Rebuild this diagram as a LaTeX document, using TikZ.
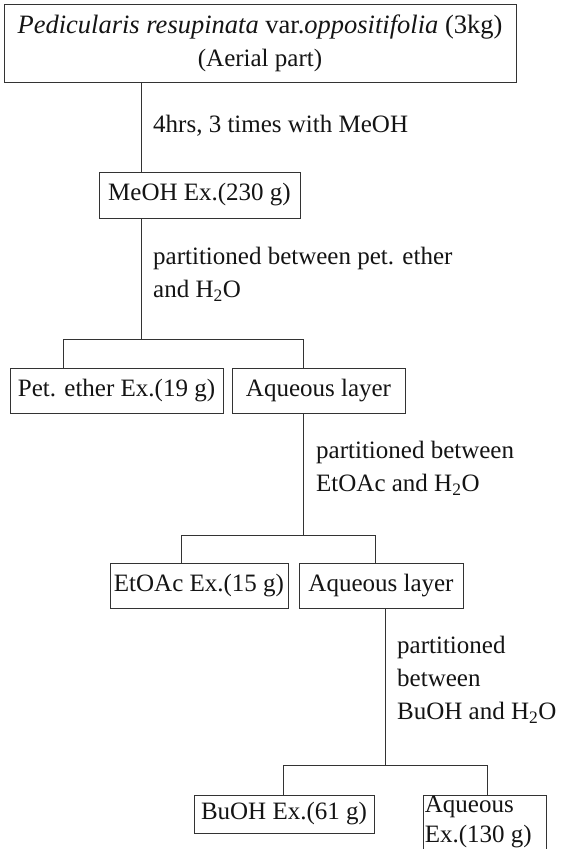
\documentclass[tikz,border=0pt]{standalone}
\usepackage{fontspec}
\setmainfont{Liberation Serif}
\begin{document}
\begin{tikzpicture}[x=1pt,y=-1pt]
\tikzset{
  every node/.style={font=\fontsize{25}{33}\selectfont, text=black!92},
  box/.style={draw=black!80, line width=0.7pt, inner sep=0pt, anchor=center},
  lbl/.style={anchor=west, inner sep=0pt, align=left},
  conn/.style={draw=black!80, line width=0.7pt},
}
\useasboundingbox (0,0) rectangle (570,849);
\clip (0,0) rectangle (570,849);
\fill[white] (0,0) rectangle (570,849);

% boxes
\node[box, minimum width=512, minimum height=78, align=center] (top) at (260,43)
  {{\fontsize{26.5}{33}\selectfont\textit{Pedicularis resupinata} var.\textit{oppositifolia} (3kg)}\\(Aerial part)};
\node[box, minimum width=201, minimum height=46] (meoh) at (199.5,195) {MeOH Ex.(230 g)};
\node[box, minimum width=213, minimum height=45] (pet) at (116.5,390.5) {Pet. ether Ex.(19 g)};
\node[box, minimum width=173, minimum height=45] (aq1) at (318.5,390.5) {Aqueous layer};
\node[box, minimum width=178, minimum height=45] (etoac) at (199,585.5) {EtOAc Ex.(15 g)};
\node[box, minimum width=164, minimum height=45] (aq2) at (381,585.5) {Aqueous layer};
\node[box, minimum width=180, minimum height=38] (buoh) at (284,814) {BuOH Ex.(61 g)};
\node[box, anchor=north west, inner xsep=1.5pt, inner ysep=1pt] (aqex) at (423,795)
  {\parbox[t][72pt][t]{120pt}{\fontsize{25}{30}\selectfont\raggedright Aqueous\\Ex.(130 g)}};

% labels
\node[lbl] (l1) at (153,126) {4hrs, 3 times with MeOH};
\node[lbl] (l2) at (153,274.5) {partitioned between pet. ether\\and H\textsubscript{2}O};
\node[lbl] (l3) at (316,468) {partitioned between\\EtOAc and H\textsubscript{2}O};
\node[lbl] (l4) at (397,680) {partitioned\\between\\BuOH and H\textsubscript{2}O};

% junctions
\coordinate (j1) at (141,339);
\coordinate (b1l) at (63,339);
\coordinate (b1r) at (303,339);
\coordinate (j2) at (303,535);
\coordinate (b2l) at (181,535);
\coordinate (b2r) at (375,535);
\coordinate (j3) at (385,765);
\coordinate (b3l) at (283,765);
\coordinate (b3r) at (487,765);

% connectors
\draw[conn] (top.south -| j1) -- (meoh.north -| j1);
\draw[conn] (meoh.south -| j1) -- (j1);
\draw[conn] (pet.north -| b1l) -- (b1l) -- (b1r) -- (aq1.north -| b1r);
\draw[conn] (aq1.south -| j2) -- (j2);
\draw[conn] (etoac.north -| b2l) -- (b2l) -- (b2r) -- (aq2.north -| b2r);
\draw[conn] (aq2.south -| j3) -- (j3);
\draw[conn] (buoh.north -| b3l) -- (b3l) -- (b3r) -- (aqex.north -| b3r);
\end{tikzpicture}
\end{document}
